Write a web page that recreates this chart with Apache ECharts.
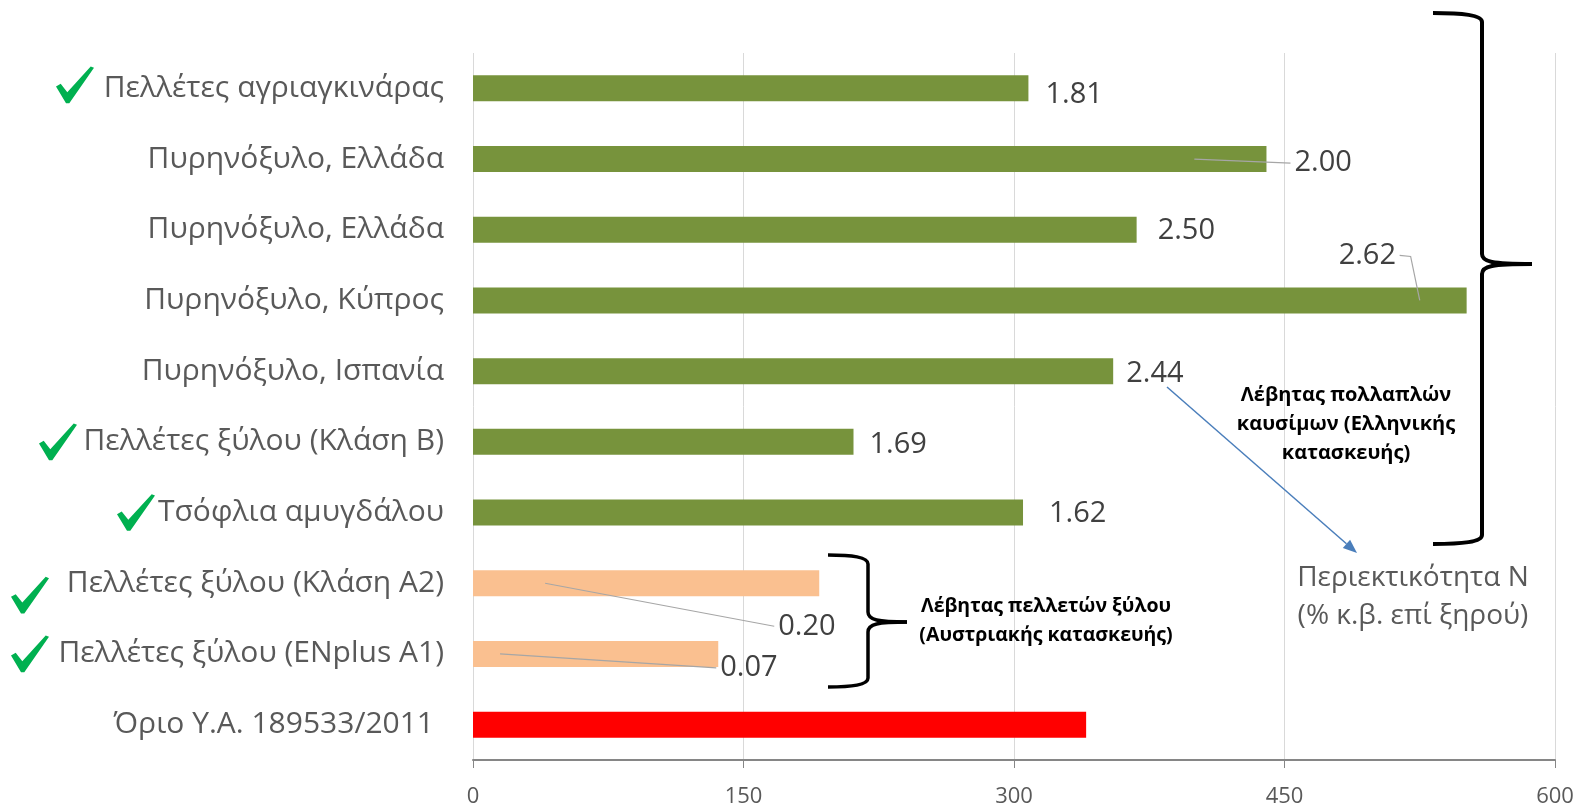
<!DOCTYPE html>
<html>
<head>
<meta charset="utf-8">
<script src="https://cdn.jsdelivr.net/npm/echarts@6/dist/echarts.min.js"></script>
<style>
  html, body { margin: 0; padding: 0; background: #fff; }
  #main { width: 1581px; height: 809px; }
</style>
</head>
<body>
<div id="main"></div>
<script>
// δεδομένα
const categories = [
  'Πελλέτες αγριαγκινάρας',
  'Πυρηνόξυλο, Ελλάδα',
  'Πυρηνόξυλο, Ελλάδα',
  'Πυρηνόξυλο, Κύπρος',
  'Πυρηνόξυλο, Ισπανία',
  'Πελλέτες ξύλου (Κλάση Β)',
  'Τσόφλια αμυγδάλου',
  'Πελλέτες ξύλου (Κλάση Α2)',
  'Πελλέτες ξύλου (ENplus A1)',
  'Όριο Υ.Α. 189533/2011'
];
const values = [308, 440, 368, 551, 355, 211, 305, 192, 136, 340];
const nitrogen = ['1.81', '2.00', '2.50', '2.62', '2.44', '1.69', '1.62', '0.20', '0.07', ''];
const certified = [true, false, false, false, false, true, true, true, true, false];
const groups = ['multi', 'multi', 'multi', 'multi', 'multi', 'multi', 'multi', 'pellet', 'pellet', 'limit'];
const xTicks = [0, 150, 300, 450, 600];

// στυλ
const groupColors = { multi: '#77933C', pellet: '#FAC090', limit: '#FF0000' };
const labelOffsets = [[12, 6], [23, 4], [16, 1], [-133, -45], [8, 3], [11, 3], [21, 1], [-46, 43], [-3, 14], [0, 0]];
// θέση σημαδιού ✔ (αριστερό άκρο σε px, κατακόρυφη μετατόπιση)
const checkLeft = [56, 0, 0, 0, 0, 39, 117, 11, 11, 0];
const checkDy = [-3.5, 0, 0, 0, 0, 0, 0, 12, 0, 0];
// γραμμές οδηγοί: από τιμή μέσα στη μπάρα ως την ετικέτα
const leaders = [
  { row: 1, from: 400 },
  { row: 3, from: 525, elbow: true },
  { row: 7, from: 40 },
  { row: 8, from: 15 }
];

const FONT = '"Open Sans", sans-serif';

const chart = echarts.init(document.getElementById('main'));

const option = {
  animation: false,
  backgroundColor: '#fff',
  grid: { left: 473, right: 26, top: 53, bottom: 49, containLabel: false, outerBoundsMode: 'none' },
  xAxis: {
    type: 'value',
    min: xTicks[0],
    max: xTicks[xTicks.length - 1],
    interval: xTicks[1] - xTicks[0],
    axisLine: { show: true, lineStyle: { color: '#868686', width: 2 } },
    axisTick: { show: true, length: 8, lineStyle: { color: '#868686', width: 1 } },
    axisLabel: { fontSize: 22, color: '#595959', fontFamily: FONT, margin: 26 },
    splitLine: { show: true, lineStyle: { color: '#D9D9D9', width: 1 } }
  },
  yAxis: {
    type: 'category',
    inverse: true,
    data: categories,
    axisLine: { show: false },
    axisTick: { show: false },
    axisLabel: {
      margin: 29,
      fontSize: 30,
      color: '#595959',
      fontFamily: FONT,
      rich: { last: { fontSize: 30, color: '#595959', fontFamily: FONT, padding: [0, 10, 0, 0] } },
      formatter: (v, i) => i === categories.length - 1 ? '{last|' + v + '}' : v
    }
  },
  series: [{
    type: 'bar',
    barWidth: 26,
    data: values.map((v, i) => ({
      value: v,
      itemStyle: { color: groupColors[groups[i]] },
      label: { offset: labelOffsets[i] }
    })),
    label: {
      show: true,
      position: 'right',
      distance: 5,
      fontSize: 29,
      color: '#404040',
      fontFamily: FONT,
      formatter: p => nitrogen[p.dataIndex]
    }
  }]
};

chart.setOption(option);

// σχολιασμοί
const px = (v, row) => chart.convertToPixel({ gridIndex: 0 }, [v, row]);
const graphics = [];

leaders.forEach(l => {
  const start = px(l.from, l.row);
  const end = px(values[l.row], l.row);
  const off = labelOffsets[l.row];
  const lx = end[0] + 5 + off[0];
  const ly = end[1] + off[1];
  let pts;
  if (l.elbow) {
    const rx = lx + 59;
    pts = [[rx + 2, ly], [rx + 13, ly + 1], [start[0], start[1]]];
  } else {
    pts = [[start[0], start[1]], [lx - 4, ly]];
  }
  graphics.push({
    type: 'polyline', silent: true, z: 20,
    shape: { points: pts },
    style: { stroke: '#A6A6A6', lineWidth: 1.2, fill: null }
  });
});

// πράσινα ✔
const checkShape = [[0, 20], [4.7, 17.3], [11.3, 25.7], [34.7, 0], [38, 1.3], [13.3, 36.7], [10, 36.7]];
certified.forEach((ok, i) => {
  if (!ok) return;
  const cy = px(0, i)[1] + checkDy[i];
  const top = cy - 18.4;
  graphics.push({
    type: 'polygon', silent: true, z: 20,
    shape: { points: checkShape.map(p => [checkLeft[i] + p[0], top + p[1]]) },
    style: { fill: '#00B050' }
  });
});

// αγκύλη: x0 άκρο άγκιστρου, xv κατακόρυφη, xp μύτη
function brace(x0, xv, xp, yt, ym, yb, w) {
  const st = { stroke: '#000', lineWidth: w, fill: null };
  const h = (xv - x0);
  const c = (a) => ({ type: 'bezierCurve', z: 20, silent: true, shape: a, style: st });
  const l = (a) => ({ type: 'line', z: 20, silent: true, shape: a, style: st });
  return [
    c({ x1: x0, y1: yt, cpx1: x0 + h * 0.6, cpy1: yt, cpx2: xv, cpy2: yt + 2, x2: xv, y2: yt + 9 }),
    l({ x1: xv, y1: yt + 9, x2: xv, y2: ym - 10 }),
    c({ x1: xv, y1: ym - 10, cpx1: xv, cpy1: ym - 2, cpx2: xv + 10, cpy2: ym, x2: xp, y2: ym }),
    c({ x1: xp, y1: ym, cpx1: xv + 10, cpy1: ym, cpx2: xv, cpy2: ym + 2, x2: xv, y2: ym + 10 }),
    l({ x1: xv, y1: ym + 10, x2: xv, y2: yb - 9 }),
    c({ x1: xv, y1: yb - 9, cpx1: xv, cpy1: yb - 2, cpx2: x0 + h * 0.6, cpy2: yb, x2: x0, y2: yb })
  ];
}
graphics.push(...brace(1433, 1482, 1532, 13, 264, 544, 4));
graphics.push(...brace(828, 868, 907, 555, 622, 687, 3.5));

// βέλος
const a0 = [1167, 387], a1 = [1357, 553];
const dx = a1[0] - a0[0], dy = a1[1] - a0[1], len = Math.hypot(dx, dy);
const ux = dx / len, uy = dy / len;
const bx = a1[0] - ux * 14, by = a1[1] - uy * 14;
graphics.push({
  type: 'line', z: 20, silent: true,
  shape: { x1: a0[0], y1: a0[1], x2: bx, y2: by },
  style: { stroke: '#4A7EBB', lineWidth: 1.5 }
});
graphics.push({
  type: 'polygon', z: 20, silent: true,
  shape: { points: [[a1[0], a1[1]], [bx - uy * 5.5, by + ux * 5.5], [bx + uy * 5.5, by - ux * 5.5]] },
  style: { fill: '#4A7EBB' }
});

const note = (x, y, text, size, color, bold, lh) => ({
  type: 'text', z: 21, silent: true, x: x, y: y,
  style: {
    text: text, fill: color, fontSize: size, fontFamily: FONT,
    fontWeight: bold ? 'bold' : 'normal', align: 'center', verticalAlign: 'middle',
    lineHeight: lh
  }
});
graphics.push(note(1346, 424, 'Λέβητας πολλαπλών\nκαυσίμων (Ελληνικής\nκατασκευής)', 20, '#000', true, 29));
graphics.push(note(1046, 621, 'Λέβητας πελλετών ξύλου\n(Αυστριακής κατασκευής)', 19.5, '#000', true, 29));
graphics.push(note(1413, 597, 'Περιεκτικότητα Ν\n(% κ.β. επί ξηρού)', 28, '#595959', false, 38));

chart.setOption({ graphic: graphics });
</script>
</body>
</html>
